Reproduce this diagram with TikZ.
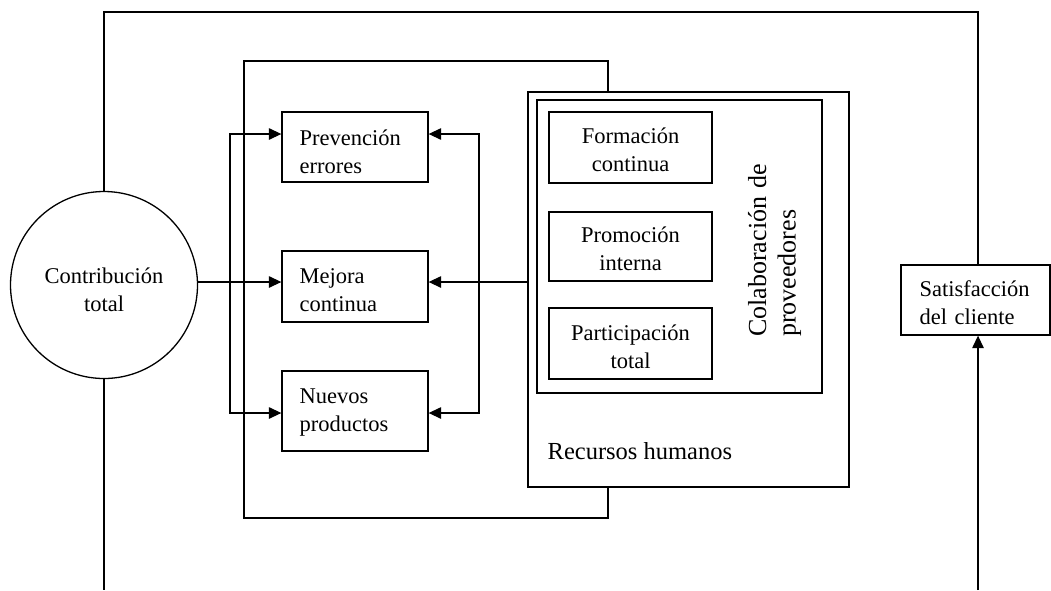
\documentclass[tikz,border=0pt]{standalone}
\usepackage{fontspec}
\setmainfont{Liberation Serif}
\usetikzlibrary{arrows.meta}
\begin{document}
\begin{tikzpicture}[x=1pt,y=-1pt,line width=1.3pt,
  box/.style={draw, fill=white, inner sep=0pt},
  lbl/.style={inner sep=0pt, text width=#1, font=\fontsize{22.5}{28}\selectfont},
  arr/.style={-{Triangle[length=12.5pt,width=11.5pt]}}
]
\useasboundingbox (0,0) rectangle (1051,590);

% enclosing frame of the quality activities
\node[box, minimum width=364, minimum height=457] (core) at (426,289.5) {};

% central contribution
\node[draw, circle, minimum size=187, inner sep=0pt] (circ) at (104,285) {};
\node[lbl=160, align=center, anchor=base] (circt) at (104,283) {Contribución\\total};

% activity boxes
\node[box, minimum width=146, minimum height=70] (prev) at (355,147) {};
\node[box, minimum width=146, minimum height=71] (mej)  at (355,286.5) {};
\node[box, minimum width=146, minimum height=80] (nuev) at (355,411) {};
\node[lbl=125, align=left, anchor=base west] (prevt) at (299,145.5) {Prevención\\errores};
\node[lbl=125, align=left, anchor=base west] (mejt)  at (299,283.3) {Mejora\\continua};
\node[lbl=125, align=left, anchor=base west] (nuevt) at (299,403) {Nuevos\\productos};

% human resources block
\node[box, minimum width=321, minimum height=395] (rh)   at (688.5,289.5) {};
\node[box, minimum width=285, minimum height=293] (prov) at (679.5,246.5) {};
\node[box, minimum width=163, minimum height=71] (form) at (630.5,147.5) {};
\node[box, minimum width=163, minimum height=69] (prom) at (630.5,246.5) {};
\node[box, minimum width=163, minimum height=71] (part) at (630.5,343.5) {};
\node[lbl=160, align=center, anchor=base] (formt) at (630.5,143.3) {Formación\\continua};
\node[lbl=160, align=center, anchor=base] (promt) at (630.5,242.7) {Promoción\\interna};
\node[lbl=160, align=center, anchor=base] (partt) at (630.5,340) {Participación\\total};
\node[inner sep=0pt, text width=200, align=left, rotate=90, anchor=base west,
      font=\fontsize{26}{29.5}\selectfont] (colab) at (766,337.5) {Colaboración de\\proveedores};
\node[inner sep=0pt, anchor=base west, font=\fontsize{24.5}{29}\selectfont] (rht) at (547,459) {Recursos humanos};

% customer satisfaction
\node[box, minimum width=149, minimum height=70] (sat) at (975.5,300) {};
\node[lbl=125, align=left, anchor=base west] (satt) at (919,296.7) {Satisfacción\\del cliente};

% routing helpers
\coordinate (ya) at (0,134);
\coordinate (yb) at (0,282);
\coordinate (yc) at (0,413);
\coordinate (lx) at (230,0);
\coordinate (rx) at (479,0);
\coordinate (tl) at (104,12);
\coordinate (tr) at (978,12);
\coordinate (bl) at (104,590);
\coordinate (br) at (978,590);

% connectors
\draw[arr] (circ.east |- yb) -- (mej.west |- yb);
\draw[arr] (lx |- yb) |- (prev.west |- ya);
\draw[arr] (lx |- yb) |- (nuev.west |- yc);
\draw[arr] (rh.west |- yb) -- (mej.east |- yb);
\draw[arr] (rx |- yb) |- (prev.east |- ya);
\draw[arr] (rx |- yb) |- (nuev.east |- yc);
\draw (circ.north) -- (tl) -- (tr) -- (tr |- sat.north);
\draw (circ.south) -- (bl);
\draw[arr] (br) -- (br |- sat.south);
\end{tikzpicture}
\end{document}
